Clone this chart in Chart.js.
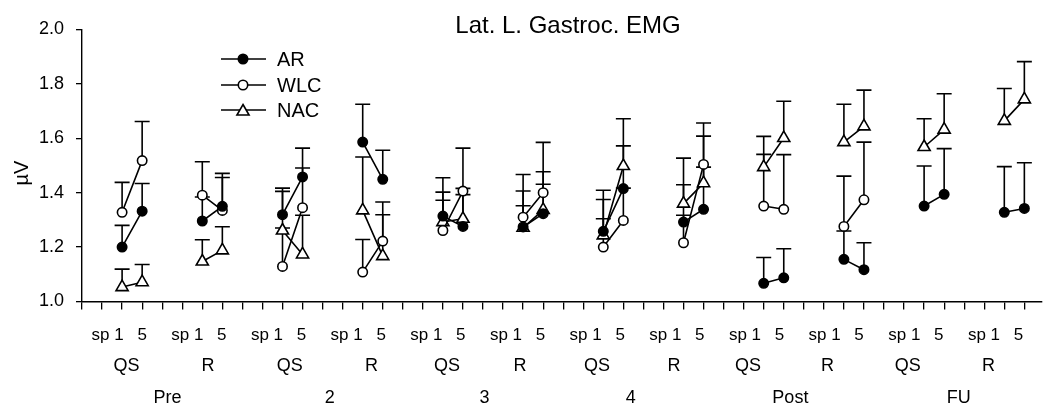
<!DOCTYPE html>
<html><head><meta charset="utf-8">
<script src="https://cdn.jsdelivr.net/npm/chart.js@4.4.1/dist/chart.umd.min.js"></script>
<style>html,body{margin:0;padding:0;background:#fff;}</style>
</head><body>
<canvas id="c" width="1050" height="405"></canvas>
<script>
// ---- data ----
const periods = ['Pre', '2', '3', '4', 'Post', 'FU'];
const conditions = ['QS', 'R'];
const speeds = ['sp 1', '5'];
const yTickValues = [1.0, 1.2, 1.4, 1.6, 1.8, 2.0];
const seriesNames = ['AR', 'WLC', 'NAC'];

// order: Pre QS sp1, Pre QS 5, Pre R sp1, Pre R 5, 2 QS sp1, ...
const arMean  = [1.200,1.332, 1.296,1.350, 1.319,1.458, 1.586,1.449, 1.314,1.276, 1.274,1.323,
                 1.258,1.415, 1.292,1.339, 1.067,1.087, 1.155,1.117, 1.351,1.394, 1.328,1.342];
const arErr   = [0.080,0.102, 0.088,0.121, 0.086,0.106, 0.139,0.107, 0.088,0.117, 0.078,0.108,
                 0.117,0.157, 0.137,0.155, 0.095,0.107, 0.104,0.099, 0.147,0.168, 0.168,0.168];
const wlcMean = [1.328,1.518, 1.391,1.335, 1.129,1.345, 1.108,1.222, 1.261,1.406, 1.310,1.400,
                 1.200,1.298, 1.216,1.504, 1.351,1.339, 1.276,1.374, null,null, null,null];
const wlcErr  = [0.110,0.144, 0.123,0.121, 0.141,0.146, 0.120,0.144, 0.111,0.158, 0.096,0.185,
                 0.104,0.119, 0.101,0.152, 0.190,0.201, 0.185,0.212, null,null, null,null];
const nacMean = [1.053,1.071, 1.147,1.188, 1.261,1.173, 1.335,1.167, 1.292,1.304, 1.271,1.337,
                 1.243,1.498, 1.360,1.435, 1.494,1.601, 1.586,1.644, 1.568,1.632, 1.664,1.743];
const nacErr  = [0.066,0.065, 0.080,0.087, 0.156,0.144, 0.196,0.152, 0.163,0.112, 0.196,0.140,
                 0.166,0.174, 0.167,0.173, 0.113,0.135, 0.139,0.133, 0.104,0.132, 0.119,0.139];

// ---- layout (axis units) ----
const FONT = "'Liberation Sans', Arial, sans-serif";
const nGroups = periods.length * conditions.length;
const xPos = j => 4 * Math.floor(j / 2) + 2 + (j % 2);         // sp1 -> 4i+2, 5 -> 4i+3
const condLabelPos = [2.22, 6.29, 10.36, 14.44, 18.2, 21.85, 25.69, 29.53, 33.22, 37.18, 41.18, 45.21];
const periodLabelPos = [4.26, 12.36, 20.07, 27.37, 35.33, 43.73];

function buildData(means) {
  const out = [];
  means.forEach((m, j) => {
    if (m !== null) out.push({x: xPos(j), y: m});
    if (j % 2 === 1) out.push({x: xPos(j) + 0.5, y: null});
  });
  return out;
}

const seriesDefs = [
  {name: seriesNames[0], mean: arMean, err: arErr, style: 'circle', fill: '#000', r: 4.7},
  {name: seriesNames[1], mean: wlcMean, err: wlcErr, style: 'circle', fill: '#fff', r: 4.7},
  {name: seriesNames[2], mean: nacMean, err: nacErr, style: 'triangle', fill: '#fff', r: 7}
];

const errorBars = {
  id: 'errorBars',
  beforeDatasetsDraw(chart) {
    const ctx = chart.ctx, xs = chart.scales.x, ys = chart.scales.y;
    ctx.save();
    ctx.strokeStyle = '#000';
    ctx.lineWidth = 1.6;
    seriesDefs.forEach(s => {
      s.mean.forEach((m, j) => {
        if (m === null) return;
        const px = xs.getPixelForValue(xPos(j));
        const py = ys.getPixelForValue(m);
        const pt = ys.getPixelForValue(m + s.err[j]);
        ctx.beginPath();
        ctx.moveTo(px, py); ctx.lineTo(px, pt);
        ctx.moveTo(px - 7.5, pt); ctx.lineTo(px + 7.5, pt);
        ctx.stroke();
      });
    });
    ctx.restore();
  }
};

function drawMarker(ctx, style, x, y, r, fill) {
  ctx.beginPath();
  if (style === 'circle') {
    ctx.arc(x, y, r, 0, Math.PI * 2);
  } else {
    let a = 0;
    for (let k = 0; k < 3; k++) {
      const px = x + Math.sin(a) * r, py = y - Math.cos(a) * r;
      if (k === 0) ctx.moveTo(px, py); else ctx.lineTo(px, py);
      a += 2 * Math.PI / 3;
    }
    ctx.closePath();
  }
  ctx.fillStyle = fill; ctx.fill();
  ctx.strokeStyle = '#000'; ctx.lineWidth = 1.6; ctx.stroke();
}

const texts = {
  id: 'texts',
  afterDraw(chart) {
    const ctx = chart.ctx, xs = chart.scales.x;
    ctx.save();
    ctx.fillStyle = '#000';
    // title
    ctx.font = `24px ${FONT}`;
    ctx.textAlign = 'center'; ctx.textBaseline = 'alphabetic';
    ctx.fillText('Lat. L. Gastroc. EMG', 568, 33);
    // legend
    const rows = [59, 85, 110];
    seriesDefs.forEach((s, i) => {
      const y = rows[i];
      ctx.strokeStyle = '#000'; ctx.lineWidth = 1.6;
      ctx.beginPath(); ctx.moveTo(221, y); ctx.lineTo(266, y); ctx.stroke();
      drawMarker(ctx, s.style, 243, y + (s.style === 'triangle' ? 1.5 : 0), s.r, s.fill);
      ctx.fillStyle = '#000';
      ctx.font = `20px ${FONT}`;
      ctx.textAlign = 'left'; ctx.textBaseline = 'middle';
      ctx.fillText(s.name, 277, y + 1);
    });
    // y-axis title
    ctx.save();
    ctx.translate(22, 173);
    ctx.rotate(-Math.PI / 2);
    ctx.font = `20px ${FONT}`;
    ctx.textAlign = 'center'; ctx.textBaseline = 'middle';
    ctx.fillText('\u00B5V', 0, 0);
    ctx.restore();
    // x rows
    ctx.textBaseline = 'alphabetic';
    ctx.font = `17px ${FONT}`;
    for (let g = 0; g < nGroups; g++) {
      ctx.textAlign = 'left';
      ctx.fillText(speeds[0], xs.getPixelForValue(0.48 + 3.973 * g), 340);
      ctx.textAlign = 'center';
      ctx.fillText(speeds[1], xs.getPixelForValue(3.0 + 3.973 * g), 340);
    }
    ctx.font = `18px ${FONT}`;
    ctx.textAlign = 'center';
    condLabelPos.forEach((p, g) => ctx.fillText(conditions[g % 2], xs.getPixelForValue(p), 371));
    periodLabelPos.forEach((p, i) => ctx.fillText(periods[i], xs.getPixelForValue(p), 403));
    ctx.restore();
  }
};

new Chart(document.getElementById('c'), {
  type: 'line',
  data: {
    datasets: seriesDefs.map(s => ({
      label: s.name,
      data: buildData(s.mean),
      borderColor: '#000',
      borderWidth: 1.6,
      tension: 0,
      spanGaps: false,
      pointStyle: s.style,
      pointRadius: s.r,
      pointBorderWidth: 1.6,
      pointBorderColor: '#000',
      pointBackgroundColor: s.fill
    }))
  },
  options: {
    responsive: false,
    animation: false,
    devicePixelRatio: 1,
    layout: {padding: {top: 29.5, left: 0, right: 0, bottom: 0}},
    plugins: {legend: {display: false}, title: {display: false}, tooltip: {enabled: false}},
    scales: {
      x: {
        type: 'linear', min: 0, max: 47.85,
        afterBuildTicks: s => { s.ticks = Array.from({length: 48}, (_, k) => ({value: k})); },
        afterFit: s => { s.height = 103.5; },
        ticks: {display: false},
        grid: {drawOnChartArea: false, drawTicks: true, tickLength: 8, color: '#000', lineWidth: 1.3},
        border: {display: true, color: '#000', width: 1.4}
      },
      y: {
        min: 1, max: 2,
        afterBuildTicks: s => { s.ticks = yTickValues.map(v => ({value: v})); },
        afterFit: s => { s.width = 82; },
        ticks: {callback: v => Number(v).toFixed(1), color: '#000', font: {size: 18, family: FONT}, padding: 12},
        grid: {drawOnChartArea: false, drawTicks: true, tickLength: 6, color: '#000', lineWidth: 1.3},
        border: {display: true, color: '#000', width: 1.4}
      }
    }
  },
  plugins: [errorBars, texts]
});
</script>
</body></html>
